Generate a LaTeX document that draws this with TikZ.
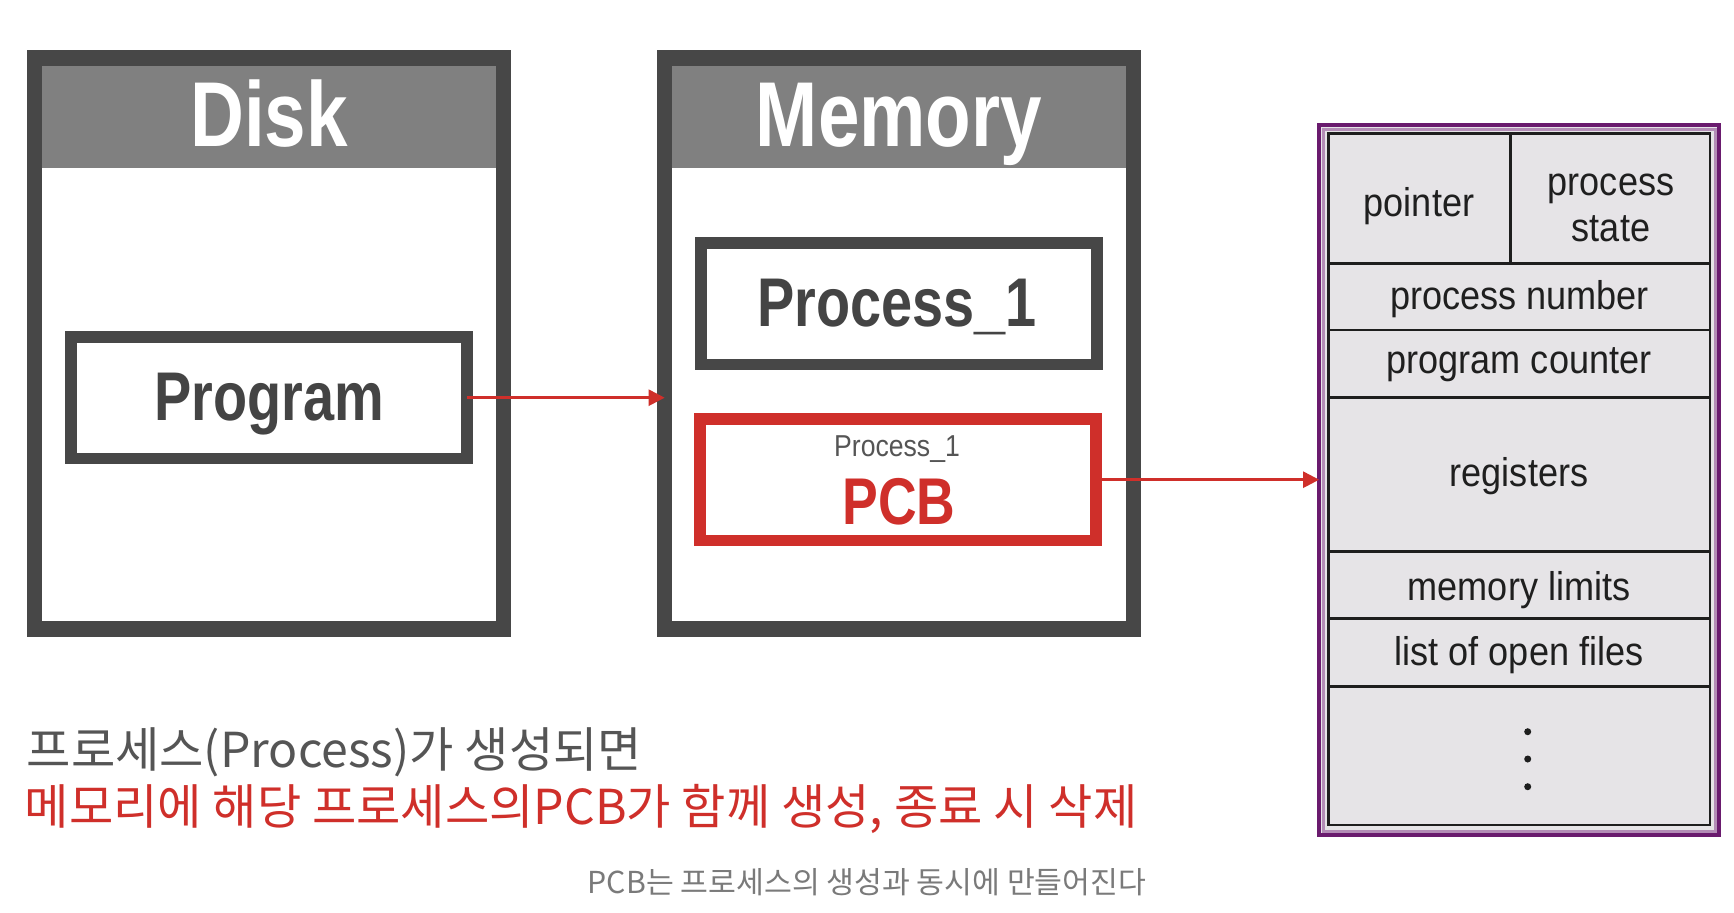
\documentclass[tikz,border=0pt]{standalone}
\usepackage{fontspec}
\setmainfont{Liberation Sans}
\newfontfamily\condfont[FakeStretch=0.81]{Liberation Sans}
\newfontfamily\condreg[FakeStretch=0.88]{Liberation Sans}
\newfontfamily\tabfont[FakeStretch=0.9]{Liberation Sans}
\newfontfamily\krfont{Noto Sans CJK KR}
\usetikzlibrary{arrows.meta}
\definecolor{boxgray}{HTML}{474747}
\definecolor{headgray}{HTML}{808080}
\definecolor{pcbred}{HTML}{CF2F2A}
\definecolor{pdark}{HTML}{6A1B6E}
\definecolor{plight}{HTML}{B38DB6}
\definecolor{tabbg}{HTML}{E6E4E7}
\definecolor{tabline}{HTML}{1E1E1E}
\definecolor{textgray}{HTML}{444444}
\definecolor{smallgray}{HTML}{555555}
\definecolor{lineone}{HTML}{555555}
\definecolor{capgray}{HTML}{7A7A7A}
\begin{document}
\begin{tikzpicture}[x=0.01cm,y=-0.01cm,
  bigbox/.style={draw=boxgray, line width=0.156cm, minimum width=4.684cm, minimum height=5.703cm, inner sep=0pt, outer sep=0pt},
  header/.style={fill=headgray, minimum width=4.6cm, minimum height=1.08cm, inner sep=0pt, outer sep=0pt},
  title/.style={text=white, font=\condfont\bfseries\fontsize{26.2}{30}\selectfont, anchor=base, inner sep=0pt},
  innerbox/.style={line width=0.118cm, minimum width=3.957cm, minimum height=1.215cm, inner sep=0pt, outer sep=0pt},
  boxtext/.style={text=textgray, font=\condfont\bfseries\fontsize{19.6}{22}\selectfont, anchor=base, inner sep=0pt},
  flow/.style={draw=pcbred, line width=0.025cm, -{Triangle[length=0.16cm, width=0.16cm]}},
  field/.style={font=\tabfont\fontsize{11.4}{13}\selectfont, text=black!88, anchor=base, inner sep=0pt},
  tabrule/.style={draw=tabline, line width=0.028cm},
  krtext/.style={font=\krfont\fontsize{13.7}{15}\selectfont, inner sep=0pt, anchor=base west},
]
\fill[white] (0,0) rectangle (1734,912);
\useasboundingbox (0,0) rectangle (1734,912);

% Disk
\node[header] (diskhead) at (269,114.3) {};
\node[bigbox] (disk) at (269,343.6) {};
\node[title] (disktitle) at (269,146) {Disk};
\node[innerbox, draw=boxgray] (prog) at (269.2,397.7) {};
\node[boxtext] (progtext) at (269.4,420.7) {Program};

% Memory
\node[header] (memhead) at (899,114.3) {};
\node[bigbox] (mem) at (899,343.6) {};
\node[title] (memtitle) at (899,146.5) {Memory};
\node[innerbox, draw=boxgray] (proc) at (898.8,303.7) {};
\node[boxtext] (proctext) at (897,326.7) {Process\_1};
\node[innerbox, draw=pcbred] (pcb) at (898.3,479.7) {};
\node[text=smallgray, font=\condreg\fontsize{8.6}{10}\selectfont, anchor=base, inner sep=0pt] (pcbsmall) at (897,456.7) {Process\_1};
\node[text=pcbred, font=\condfont\bfseries\fontsize{18.8}{22}\selectfont, anchor=base, inner sep=0pt] (pcbtext) at (899,524) {PCB};

% PCB table
\node[draw=pdark, line width=0.045cm, fill=tabbg, minimum width=3.995cm, minimum height=7.095cm, inner sep=0pt, outer sep=0pt] (frame) at (1519,480) {};
\draw[plight, line width=0.03cm] (1323,129) rectangle (1715,831);
\draw[tabrule] (1328.3,133.3) rectangle (1710,825);
\draw[tabrule] (1510.7,133.3) -- (1510.7,263.3);
\foreach \yy in {263.3,330,397.3,551.7,618.3,686.7}
  \draw[tabrule] (1328.3,\yy) -- (1710,\yy);
\node[field] (fpointer) at (1419,216) {pointer};
\node[field] (fstate1) at (1611,195) {process};
\node[field] (fstate2) at (1611,241) {state};
\node[field] (fnumber) at (1519.7,309.3) {process number};
\node[field] (fcounter) at (1519,373) {program counter};
\node[field] (fregs) at (1519,486) {registers};
\node[field] (flimits) at (1519,600) {memory limits};
\node[field] (ffiles) at (1519,665) {list of open files};
\foreach \yy in {731.7,759,786.7}
  \fill[tabline] (1527.7,\yy) circle (0.035cm);

% connectors
\draw[flow] (prog.east) -- (mem.west |- prog.east);
\draw[flow] (pcb.east) -- (frame.west |- pcb.east);

% captions
\node[krtext, text=lineone] (cap1) at (26,767) {프로세스(Process)가 생성되면};
\node[krtext, text=pcbred] (cap2) at (24,824) {메모리에 해당 프로세스의PCB가 함께 생성, 종료 시 삭제};
\node[font=\krfont\fontsize{8.6}{10}\selectfont, text=capgray, anchor=base, inner sep=0pt] (cap3) at (867,893) {PCB는 프로세스의 생성과 동시에 만들어진다};
\end{tikzpicture}
\end{document}
